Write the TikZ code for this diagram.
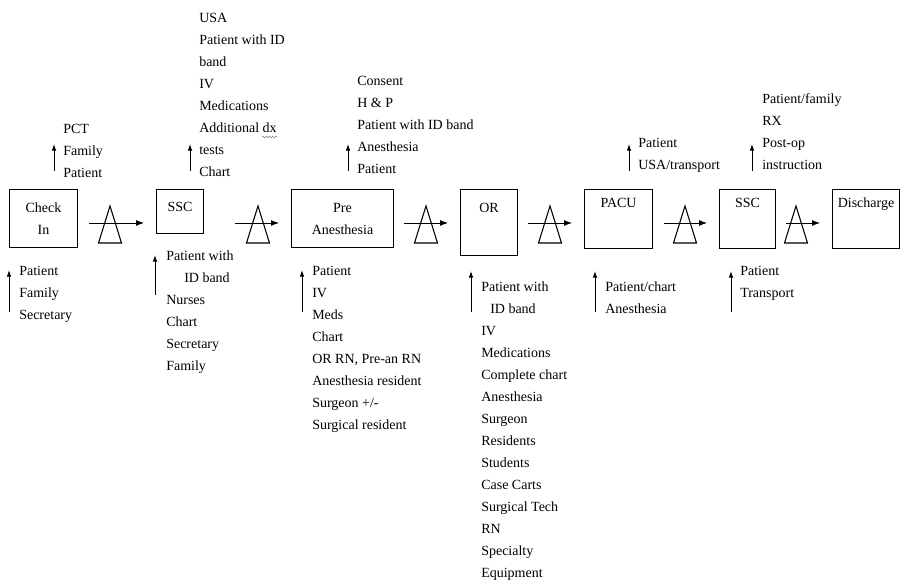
\documentclass[tikz,border=0pt]{standalone}
\usepackage{fontspec}
\setmainfont{Liberation Serif}
\usetikzlibrary{arrows.meta,decorations.pathmorphing}

\tikzset{
  stage/.style={draw, line width=0.8pt, inner sep=0pt, anchor=north west, align=center},
  stagename/.style={anchor=north, inner sep=0pt, yshift=#1},
  items/.style={anchor=north west, inner sep=0pt, align=left},
  flow/.style={-{Latex[length=6pt,width=4.5pt]}, line width=0.7pt},
  feed/.style={-{Latex[length=5pt,width=3.5pt]}, line width=0.7pt},
  gate/.style={line width=0.8pt},
  squiggle/.style={gray, line width=0.4pt, decorate,
    decoration={snake, amplitude=0.6pt, segment length=2.4pt}},
}

\begin{document}
\begin{tikzpicture}[x=0.75pt,y=-0.75pt,font=\fontsize{10.5}{16.5}\selectfont]

  \useasboundingbox (0,0) rectangle (901,584);

  % stages
  \node[stage, minimum width=51pt, minimum height=43.5pt] (ci) at (9,189) {Check\\In};
  \node[stage, minimum width=35.25pt, minimum height=33pt,
        label={[stagename=-9.75pt]north:SSC}] (ssc1) at (156,189) {};
  \node[stage, minimum width=76.5pt, minimum height=43.5pt] (pre) at (291,189) {Pre\\Anesthesia};
  \node[stage, minimum width=42.75pt, minimum height=49.5pt,
        label={[stagename=-10.5pt]north:OR}] (or) at (460,189) {};
  \node[stage, minimum width=51pt, minimum height=44.25pt,
        label={[stagename=-6.75pt]north:PACU}] (pacu) at (584,189) {};
  \node[stage, minimum width=42pt, minimum height=44.25pt,
        label={[stagename=-6.75pt]north:SSC}] (ssc2) at (719,189) {};
  \node[stage, minimum width=50.25pt, minimum height=44.25pt,
        label={[stagename=-6.75pt]north:Discharge}] (dis) at (832,189) {};

  % triangles on the flow line
  \foreach \n/\x in {1/110, 2/258, 3/426, 4/550, 5/685, 6/796} {
    \coordinate (t\n) at (\x,223);
    \draw[gate] (t\n) ++(0,-17) -- ++(-11.5,37) -- ++(23,0) -- cycle;
  }

  % flow arrows
  \foreach \a/\b/\t/\s in {ci/ssc1/t1/8.25pt, ssc1/pre/t2/23.25pt, pre/or/t3/7.5pt,
                          or/pacu/t4/7.5pt, pacu/ssc2/t5/8.25pt, ssc2/dis/t6/7.5pt}
    \draw[flow, shorten <=\s, shorten >=9pt] (\a.east |- \t) -- (\b.west |- \t);

  % outputs above
  \node[items] (ciout) at (63,124) {PCT\\Family\\Patient};
  \node[items] (ssc1out) at (199,13) {USA\\Patient with ID\\band\\IV\\Medications\\Additional dx\\tests\\Chart};
  \node[items] (preout) at (357,76) {Consent\\H \& P\\Patient with ID band\\Anesthesia\\Patient};
  \node[items] (pacuout) at (638,138) {Patient\\USA/transport};
  \node[items] (ssc2out) at (762,93) {Patient/family\\RX\\Post-op\\instruction};

  % spell-check mark under dx
  \draw[squiggle] (262,137) -- (277,137);

  \foreach \x in {54,190,348,629,752}
    \draw[feed] (\x,171) -- (\x,144);

  % inputs below
  \node[items] (ciin) at (19,266) {Patient\\Family\\Secretary};
  \node[items] (ssc1in) at (166,251) {Patient with\\\hspace{13.5pt}ID band\\Nurses\\Chart\\Secretary\\Family};
  \node[items] (prein) at (312,266) {Patient\\IV\\Meds\\Chart\\OR RN, Pre-an RN\\Anesthesia resident\\Surgeon +/-\\Surgical resident};
  \node[items] (orin) at (481,282) {Patient with\\\hspace{6.75pt}ID band\\IV\\Medications\\Complete chart\\Anesthesia\\Surgeon\\Residents\\Students\\Case Carts\\Surgical Tech\\RN\\Specialty\\Equipment};
  \node[items] (pacuin) at (605,282) {Patient/chart\\Anesthesia};
  \node[items] (ssc2in) at (740,266) {Patient\\Transport};

  \foreach \x/\a/\b in {9/312/270, 155/295/255, 302/312/270, 471/312/271, 595/312/271, 731/312/271}
    \draw[feed] (\x,\a) -- (\x,\b);

\end{tikzpicture}
\end{document}
